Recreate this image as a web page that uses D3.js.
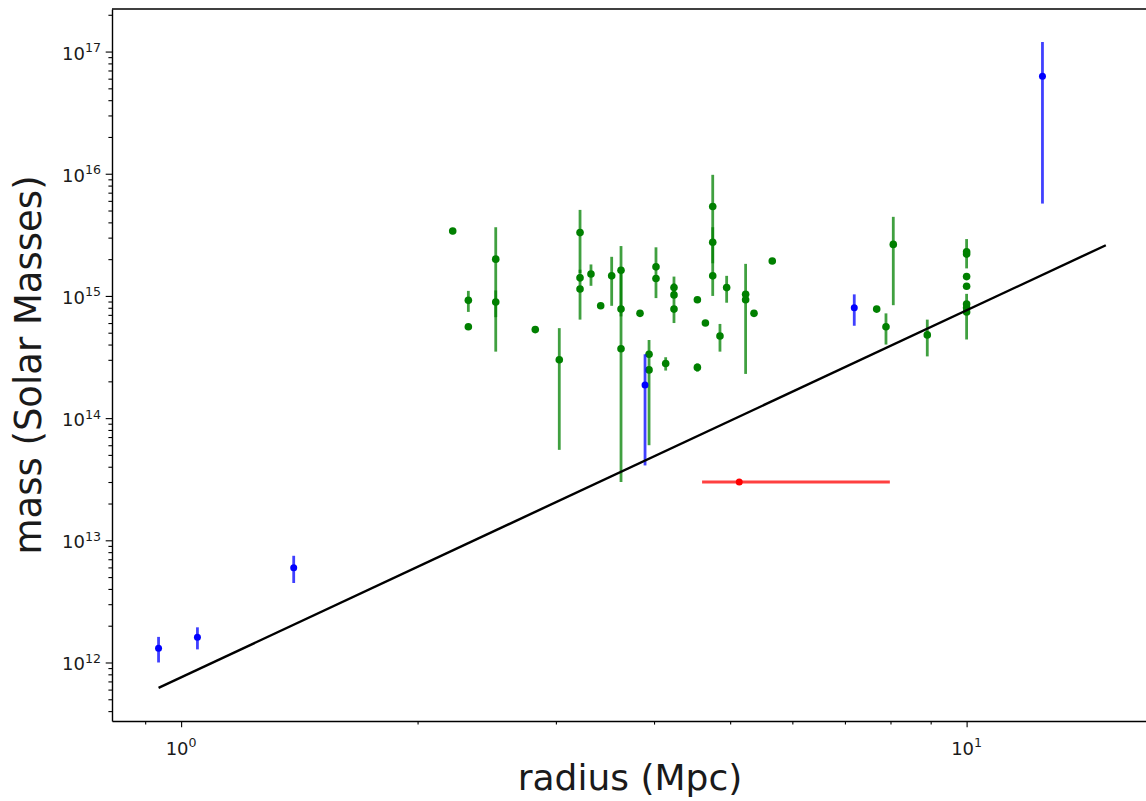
<!DOCTYPE html>
<html><head><meta charset="utf-8">
<script src="https://cdn.jsdelivr.net/npm/d3@7"></script>
<style>
body{margin:0;background:#fff}
text{font-family:"DejaVu Sans",sans-serif;fill:#1a1a1a}
</style>
</head><body>
<svg id="c" width="1146" height="801"></svg>
<script>
// ---- data (radius in Mpc, mass in solar masses) ----
const greenR = [2.217, 2.321, 2.321, 2.515, 2.515, 2.824, 3.030, 3.220, 3.220, 3.220,
  3.325, 3.421, 3.533, 3.631, 3.631, 3.631, 3.839, 3.942, 3.942, 4.139,
  4.023, 4.023, 4.241, 4.241, 4.241, 4.542, 4.542, 4.650, 4.751, 4.751,
  4.751, 4.853, 4.949, 5.232, 5.232, 5.362, 5.657, 7.683, 7.895, 8.066,
  8.911, 10, 10, 10, 10, 10, 10, 10];
const greenM = [3.4e15, 9.2e14, 5.6e14, 2.0e15, 8.9e14, 5.3e14, 3.0e14, 3.3e15, 1.41e15, 1.14e15,
  1.51e15, 8.3e14, 1.46e15, 1.62e15, 7.8e14, 3.7e14, 7.2e14, 3.33e14, 2.48e14, 2.8e14,
  1.73e15, 1.39e15, 1.17e15, 1.02e15, 7.8e14, 9.3e14, 2.6e14, 6.0e14, 5.4e15, 2.75e15,
  1.46e15, 4.7e14, 1.17e15, 1.03e15, 9.3e14, 7.2e14, 1.93e15, 7.8e14, 5.6e14, 2.64e15,
  4.8e14, 2.3e15, 2.2e15, 1.44e15, 1.2e15, 8.6e14, 8.0e14, 7.4e14];
const greenErr = [2e14, 1.8e14, 0, 1.65e15, 2.2e14, 3e13, 2.45e14, 1.76e15, 1e14, 5e14,
  3e14, 0, 6.3e14, 9.4e14, 7.5e14, 0, 0, 0, 1.88e14, 3.5e13,
  7.7e14, 0, 1e14, 4.2e14, 0, 5e13, 2e13, 0, 4.4e15, 9e14,
  0, 1.2e14, 2.9e14, 8e14, 0, 0, 5e13, 0, 1.6e14, 1.8e15,
  1.6e14, 6.2e14, 0, 0, 0, 0, 0, 3e14];

const blueR = [0.936, 1.049, 1.391, 3.896, 7.194, 12.49];
const blueM = [1.31e12, 1.61e12, 5.97e12, 1.87e14, 8.0e14, 6.27e16];
const blueErr = [3.1e11, 3.3e11, 1.5e12, 1.46e14, 2.3e14, 5.7e16];

const redR = [5.135];
const redM = [3.0e13];
const redXErrLow = [0.53];
const redXErrHigh = [2.85];

const lineR = [0.936, 15.04];
const lineM = [6.2e11, 2.6e15];

const xMajorTicks = [1, 10];
const xTickExp = ["0", "1"];
const xMinorTicks = [0.9, 2, 3, 4, 5, 6, 7, 8, 9];
const yMajorTicks = [1e12, 1e13, 1e14, 1e15, 1e16, 1e17];
const yTickExp = ["12", "13", "14", "15", "16", "17"];

const xLabel = "radius (Mpc)";
const yLabel = "mass (Solar Masses)";

// ---- layout ----
const L = 112, R = 1153, T = 9, B = 721;
const svg = d3.select("#c");
const x = d3.scaleLog().domain([0.8166, 17.27]).range([L, R]);
const y = d3.scaleLog().domain([3.32e11, 2.23e17]).range([B, T]);

const yMinor = [];
for (let e = 11; e <= 17; e++) for (let m = 2; m <= 9; m++) {
  const v = m * Math.pow(10, e);
  if (v >= y.domain()[0] && v <= y.domain()[1]) yMinor.push(v);
}

// frame (top + left spines; right is outside the picture)
svg.append("line").attr("x1", L).attr("x2", R).attr("y1", T).attr("y2", T)
  .attr("stroke", "#000").attr("stroke-width", 1.4);

// axes
const gx = svg.append("g").attr("transform", `translate(0,${B})`)
  .call(d3.axisBottom(x).tickValues(xMajorTicks).tickSize(6.3).tickSizeOuter(0).tickFormat(""));
const gxm = svg.append("g").attr("transform", `translate(0,${B})`)
  .call(d3.axisBottom(x).tickValues(xMinorTicks).tickSize(3.6).tickSizeOuter(0).tickFormat(""));
const gy = svg.append("g").attr("transform", `translate(${L},0)`)
  .call(d3.axisLeft(y).tickValues(yMajorTicks).tickSize(6.3).tickSizeOuter(0).tickFormat(""));
const gym = svg.append("g").attr("transform", `translate(${L},0)`)
  .call(d3.axisLeft(y).tickValues(yMinor).tickSize(3.6).tickSizeOuter(0).tickFormat(""));
[gx, gxm, gy, gym].forEach(g => {
  g.selectAll("path.domain").attr("stroke", "#000").attr("stroke-width", 1.4);
  g.selectAll(".tick line").attr("stroke", "#000").attr("stroke-width", 1.1);
});
gxm.select("path.domain").remove();
gym.select("path.domain").remove();

// tick labels 10^n
yMajorTicks.forEach((v, i) => {
  const t = svg.append("text").attr("x", 101).attr("y", y(v) + 8)
    .attr("text-anchor", "end").attr("font-size", 18);
  t.append("tspan").text("10");
  t.append("tspan").attr("font-size", 12.6).attr("dy", -7.5).text(yTickExp[i]);
});
xMajorTicks.forEach((v, i) => {
  const t = svg.append("text").attr("x", x(v)).attr("y", 754.5)
    .attr("text-anchor", "middle").attr("font-size", 18);
  t.append("tspan").text("10");
  t.append("tspan").attr("font-size", 12.6).attr("dy", -7.5).text(xTickExp[i]);
});

// axis labels
svg.append("text").attr("x", 630).attr("y", 790)
  .attr("text-anchor", "middle").attr("font-size", 36).text(xLabel);
svg.append("text").attr("transform", `translate(41,${(T + B) / 2}) rotate(-90)`)
  .attr("text-anchor", "middle").attr("font-size", 37).text(yLabel);

// error bar helper
function yBars(R_, M_, E_, color, rad) {
  const g = svg.append("g");
  R_.forEach((r, i) => {
    if (E_[i] > 0) {
      const lo = Math.max(M_[i] - E_[i], y.domain()[0]);
      g.append("line").attr("x1", x(r)).attr("x2", x(r))
        .attr("y1", y(lo)).attr("y2", y(M_[i] + E_[i]))
        .attr("stroke", color).attr("stroke-opacity", 0.75).attr("stroke-width", 2.8);
    }
  });
  R_.forEach((r, i) => {
    g.append("circle").attr("cx", x(r)).attr("cy", y(M_[i])).attr("r", rad).attr("fill", color);
  });
}

yBars(greenR, greenM, greenErr, "#008000", 3.8);
yBars(blueR, blueM, blueErr, "#0000ff", 3.5);

// red horizontal error bar
redR.forEach((r, i) => {
  svg.append("line").attr("x1", x(r - redXErrLow[i])).attr("x2", x(r + redXErrHigh[i]))
    .attr("y1", y(redM[i])).attr("y2", y(redM[i]))
    .attr("stroke", "#ff0000").attr("stroke-opacity", 0.75).attr("stroke-width", 2.8);
  svg.append("circle").attr("cx", x(r)).attr("cy", y(redM[i])).attr("r", 3.5).attr("fill", "#ff0000");
});

// black reference line
svg.append("path")
  .datum(lineR.map((r, i) => [r, lineM[i]]))
  .attr("d", d3.line().x(d => x(d[0])).y(d => y(d[1])))
  .attr("fill", "none").attr("stroke", "#000").attr("stroke-width", 2.4);
</script>
</body></html>
